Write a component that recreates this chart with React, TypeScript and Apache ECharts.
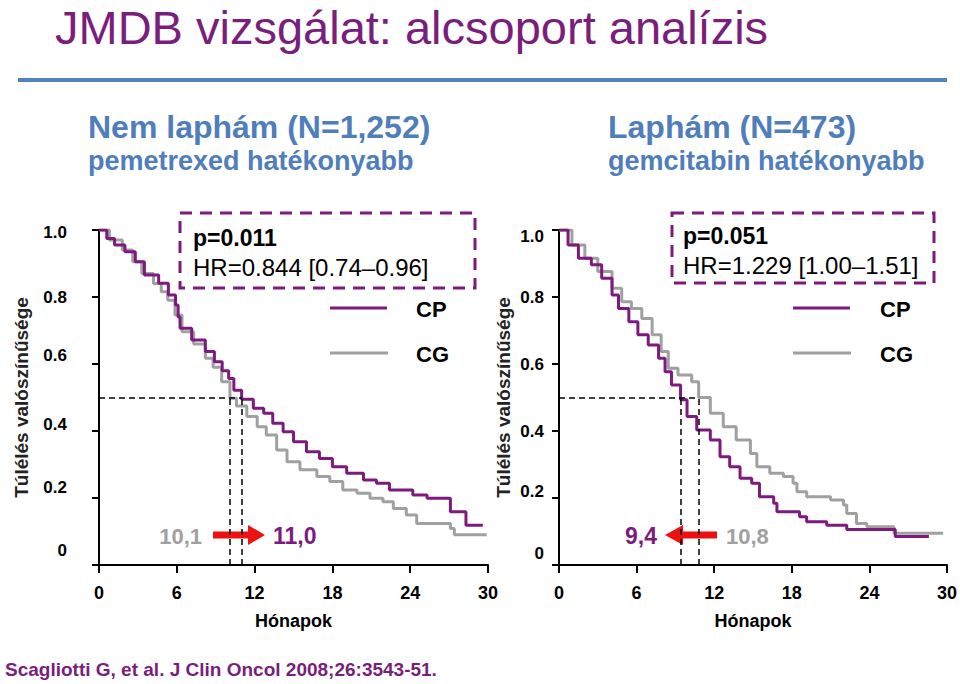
import React, { useEffect, useRef } from "react";
import * as echarts from "echarts";

// ---------- data ----------
const xTicks = [0, 6, 12, 18, 24, 30];
const yTicks = [0, 0.2, 0.4, 0.6, 0.8, 1.0];
const seriesNames = ["CP", "CG"];

// Nem laphám (N=1,252)
const leftCP: [number, number][] = [
  [0, 1], [0.6, 0.975], [1.2, 0.955], [2.0, 0.935], [2.8, 0.905], [3.5, 0.866], [4.6, 0.841],
  [5.35, 0.806], [5.9, 0.776], [6.1, 0.74], [6.25, 0.707], [7.15, 0.672], [8.2, 0.637],
  [8.9, 0.607], [9.5, 0.58], [10.0, 0.557], [10.4, 0.522], [11.0, 0.495], [11.9, 0.468],
  [12.7, 0.453], [13.4, 0.423], [14.2, 0.398], [15.0, 0.368], [16.0, 0.338], [17.0, 0.318],
  [18.0, 0.293], [19.1, 0.274], [20.4, 0.254], [21.4, 0.244], [22.4, 0.224], [24.2, 0.209],
  [25.3, 0.199], [27.1, 0.159], [28.3, 0.119], [29.6, 0.119],
];
const leftCG: [number, number][] = [
  [0, 1], [0.8, 0.97], [1.8, 0.94], [2.6, 0.905], [3.3, 0.87], [4.2, 0.84], [4.8, 0.816],
  [5.3, 0.79], [5.86, 0.746], [6.4, 0.696], [7.3, 0.66], [8.2, 0.617], [8.8, 0.59],
  [9.46, 0.547], [10.1, 0.498], [10.6, 0.475], [11.4, 0.443], [12.2, 0.413], [12.9, 0.388],
  [13.7, 0.343], [14.5, 0.308], [15.5, 0.284], [16.8, 0.264], [17.8, 0.249], [18.8, 0.224],
  [19.9, 0.214], [20.9, 0.199], [21.9, 0.189], [22.7, 0.169], [23.7, 0.149], [24.5, 0.124],
  [27.1, 0.109], [27.4, 0.09], [29.9, 0.09],
];
// Laphám (N=473)
const rightCP: [number, number][] = [
  [0, 1], [0.7, 0.955], [1.5, 0.916], [2.5, 0.896], [3.3, 0.856], [4.1, 0.806], [4.6, 0.766],
  [5.4, 0.726], [6.1, 0.687], [6.9, 0.657], [7.7, 0.617], [8.2, 0.577], [8.7, 0.537],
  [9.4, 0.493], [9.9, 0.443], [10.65, 0.403], [11.7, 0.373], [12.45, 0.323], [13.2, 0.293],
  [14.0, 0.259], [14.9, 0.244], [15.5, 0.204], [16.6, 0.184], [16.85, 0.159], [18.6, 0.144],
  [19.15, 0.129], [20.7, 0.119], [22.25, 0.106], [26.0, 0.085], [28.6, 0.085],
];
const rightCG: [number, number][] = [
  [0, 1], [1.0, 0.955], [2.0, 0.916], [3.0, 0.876], [4.1, 0.826], [4.85, 0.786], [5.6, 0.766],
  [6.4, 0.736], [7.2, 0.687], [7.9, 0.637], [8.45, 0.587], [9.2, 0.567], [10.26, 0.547],
  [10.8, 0.5], [11.7, 0.453], [12.7, 0.413], [13.7, 0.373], [14.8, 0.333], [15.3, 0.293],
  [16.3, 0.274], [17.35, 0.264], [18.1, 0.244], [18.4, 0.219], [19.15, 0.204], [21.0, 0.194],
  [22.0, 0.179], [22.25, 0.154], [23.0, 0.124], [23.8, 0.114], [25.9, 0.095], [29.7, 0.095],
];

const leftMedians = { CG: 10.1, CP: 11.0 };
const rightMedians = { CP: 9.4, CG: 10.8 };

// ---------- styles ----------
const FONT = "'Liberation Sans', Arial, sans-serif";
const PURPLE = "#7D1A7D";
const GREY = "#A0A0A0";
const BLUE = "#4F7EBB";
const RED = "#EE1111";

// vertical nudges of the y tick labels (px upward, negative = downward), as on the slide
const leftLabelShift = [15, 11, 7, 9, 0, -2];
const rightLabelShift = [12, 7, 0, 0, 0, -6];

function fmtMedian(v: number) {
  return v.toFixed(1).replace(".", ",");
}

function medianLines(m: number[]) {
  const maxM = Math.max(...m);
  return [
    [{ coord: [0, 0.5] }, { coord: [maxM, 0.5] }],
    ...m.map((v) => [{ coord: [v, 0] }, { coord: [v, 0.5] }]),
  ];
}

function richShifts(shifts: number[]) {
  const r: any = {};
  shifts.forEach((s, i) => {
    r["s" + i] = {
      fontFamily: FONT,
      fontSize: 17,
      fontWeight: "bold",
      color: "#000",
      padding: s >= 0 ? [0, 0, 2 * s, 0] : [-2 * s, 0, 0, 0],
    };
  });
  return r;
}

export default function App() {
  const ref = useRef<HTMLDivElement>(null);

  useEffect(() => {
    if (!ref.current) return;
    const chart = echarts.init(ref.current, null, { renderer: "svg" });

    const makeX = (gridIndex: number) => ({
      type: "value",
      gridIndex,
      min: 0,
      max: 30,
      interval: 6,
      name: "Hónapok",
      nameLocation: "middle",
      nameGap: 47,
      nameTextStyle: { fontFamily: FONT, fontSize: 18, fontWeight: "bold", color: "#000" },
      axisLine: { show: true, lineStyle: { color: "#000", width: 2 } },
      axisTick: { show: true, inside: false, length: 8, lineStyle: { color: "#000", width: 2 } },
      axisLabel: {
        margin: 19,
        fontFamily: FONT,
        fontSize: 18,
        fontWeight: "bold",
        color: "#000",
        formatter: (v: number) => (xTicks.includes(v) ? String(v) : ""),
      },
      splitLine: { show: false },
    });
    const makeY = (gridIndex: number, margin: number, nameGap: number, shifts: number[]) => ({
      type: "value",
      gridIndex,
      min: 0,
      max: 1,
      interval: 0.2,
      name: "Túlélés valószínűsége",
      nameLocation: "middle",
      nameRotate: 90,
      nameGap,
      nameTextStyle: { fontFamily: FONT, fontSize: 19, fontWeight: "bold", color: "#222" },
      axisLine: { show: true, lineStyle: { color: "#000", width: 2 } },
      axisTick: { show: true, inside: false, length: 7, lineStyle: { color: "#000", width: 2 } },
      axisLabel: {
        margin,
        fontFamily: FONT,
        fontSize: 17,
        fontWeight: "bold",
        color: "#000",
        rich: richShifts(shifts),
        formatter: (v: number) => {
          const i = yTicks.findIndex((y) => Math.abs(y - v) < 1e-6);
          if (i < 0) return "";
          const t = yTicks[i];
          return `{s${i}|${t === 0 ? "0" : t.toFixed(1)}}`;
        },
      },
      splitLine: { show: false },
    });

    const dashLine = {
      silent: true,
      symbol: "none",
      label: { show: false },
      lineStyle: { type: [6, 4], color: "#000", width: 1.5 },
      emphasis: { disabled: true },
    };

    const kmSeries = (name: string, data: [number, number][], idx: number, color: string, markLine?: any) => ({
      type: "line",
      name,
      xAxisIndex: idx,
      yAxisIndex: idx,
      step: "end",
      symbol: "none",
      data,
      lineStyle: { color, width: 3 },
      itemStyle: { color },
      z: color === PURPLE ? 4 : 3,
      markLine,
    });

    const legendGraphics = (lineX: number, textX: number) => [
      { type: "line", shape: { x1: lineX, y1: 308, x2: lineX + 57, y2: 308 }, style: { stroke: PURPLE, lineWidth: 3 } },
      { type: "text", x: textX, y: 309, style: { text: seriesNames[0], font: `bold 22px ${FONT}`, fill: "#000", verticalAlign: "middle" } },
      { type: "line", shape: { x1: lineX, y1: 353, x2: lineX + 58, y2: 353 }, style: { stroke: GREY, lineWidth: 3 } },
      { type: "text", x: textX, y: 354, style: { text: seriesNames[1], font: `bold 22px ${FONT}`, fill: "#000", verticalAlign: "middle" } },
    ];

    const option: any = {
      animation: false,
      backgroundColor: "#fff",
      grid: [
        { left: 99, top: 230, width: 389, height: 335 },
        { left: 559, top: 230, width: 388, height: 335 },
      ],
      xAxis: [makeX(0), makeX(1)],
      yAxis: [makeY(0, 32, 68, leftLabelShift), makeY(1, 15, 46, rightLabelShift)],
      series: [
        kmSeries("CG", leftCG, 0, GREY, { ...dashLine, data: medianLines([leftMedians.CG, leftMedians.CP]) }),
        kmSeries("CP", leftCP, 0, PURPLE),
        kmSeries("CG", rightCG, 1, GREY, { ...dashLine, data: medianLines([rightMedians.CP, rightMedians.CG]) }),
        kmSeries("CP", rightCP, 1, PURPLE),
      ],
      graphic: [
        // title
        { type: "text", x: 55, y: 27, style: { text: "JMDB vizsgálat: alcsoport analízis", font: `47px ${FONT}`, lineHeight: 44, fill: "#7A1E7C", verticalAlign: "middle" } },
        { type: "rect", shape: { x: 18, y: 78, width: 929, height: 4 }, style: { fill: "#4F81BD" } },
        // subtitles
        { type: "text", x: 88, y: 127, style: { text: "Nem laphám (N=1,252)", font: `bold 32px ${FONT}`, fill: BLUE, verticalAlign: "middle" } },
        { type: "text", x: 88, y: 161, style: { text: "pemetrexed hatékonyabb", font: `bold 27px ${FONT}`, fill: BLUE, verticalAlign: "middle" } },
        { type: "text", x: 608, y: 127, style: { text: "Laphám (N=473)", font: `bold 32px ${FONT}`, fill: BLUE, verticalAlign: "middle" } },
        { type: "text", x: 608, y: 161, style: { text: "gemcitabin hatékonyabb", font: `bold 27px ${FONT}`, fill: BLUE, verticalAlign: "middle" } },
        // stat boxes
        { type: "rect", shape: { x: 180, y: 213, width: 295, height: 75 }, style: { fill: "none", stroke: PURPLE, lineWidth: 3, lineDash: [12, 8] } },
        { type: "text", x: 193, y: 238, style: { text: "p=0.011", font: `bold 23px ${FONT}`, fill: "#000", verticalAlign: "middle" } },
        { type: "text", x: 193, y: 267, style: { text: "HR=0.844 [0.74–0.96]", font: `24px ${FONT}`, fill: "#000", verticalAlign: "middle" } },
        { type: "rect", shape: { x: 672, y: 213, width: 262, height: 70 }, style: { fill: "none", stroke: PURPLE, lineWidth: 3, lineDash: [12, 8] } },
        { type: "text", x: 683, y: 236, style: { text: "p=0.051", font: `bold 23px ${FONT}`, fill: "#000", verticalAlign: "middle" } },
        { type: "text", x: 683, y: 265, style: { text: "HR=1.229 [1.00–1.51]", font: `24px ${FONT}`, fill: "#000", verticalAlign: "middle" } },
        // legends
        ...legendGraphics(330, 416),
        ...legendGraphics(793, 880),
        // median annotations
        { type: "text", x: 202, y: 536, style: { text: fmtMedian(leftMedians.CG), font: `bold 22px ${FONT}`, fill: GREY, align: "right", verticalAlign: "middle" } },
        { type: "polygon", shape: { points: [[213, 531.5], [248, 531.5], [248, 525], [265, 535], [248, 545], [248, 538.5], [213, 538.5]] }, style: { fill: RED } },
        { type: "text", x: 273, y: 536, style: { text: fmtMedian(leftMedians.CP), font: `bold 23px ${FONT}`, fill: PURPLE, verticalAlign: "middle" } },
        { type: "text", x: 657, y: 536, style: { text: fmtMedian(rightMedians.CP), font: `bold 23px ${FONT}`, fill: PURPLE, align: "right", verticalAlign: "middle" } },
        { type: "polygon", shape: { points: [[717, 531.5], [683, 531.5], [683, 525], [665, 535], [683, 545], [683, 538.5], [717, 538.5]] }, style: { fill: RED } },
        { type: "text", x: 726, y: 536, style: { text: fmtMedian(rightMedians.CG), font: `bold 22px ${FONT}`, fill: GREY, verticalAlign: "middle" } },
        // footer
        { type: "text", x: 5, y: 669, style: { text: "Scagliotti G, et al. J Clin Oncol 2008;26:3543-51.", font: `bold 19px ${FONT}`, fill: "#7A1E7C", verticalAlign: "middle" } },
      ],
    };

    chart.setOption(option);
    return () => chart.dispose();
  }, []);

  return (
    <div
      ref={ref}
      style={{ position: "fixed", left: 0, top: 0, width: 960, height: 684, background: "#fff" }}
    />
  );
}
